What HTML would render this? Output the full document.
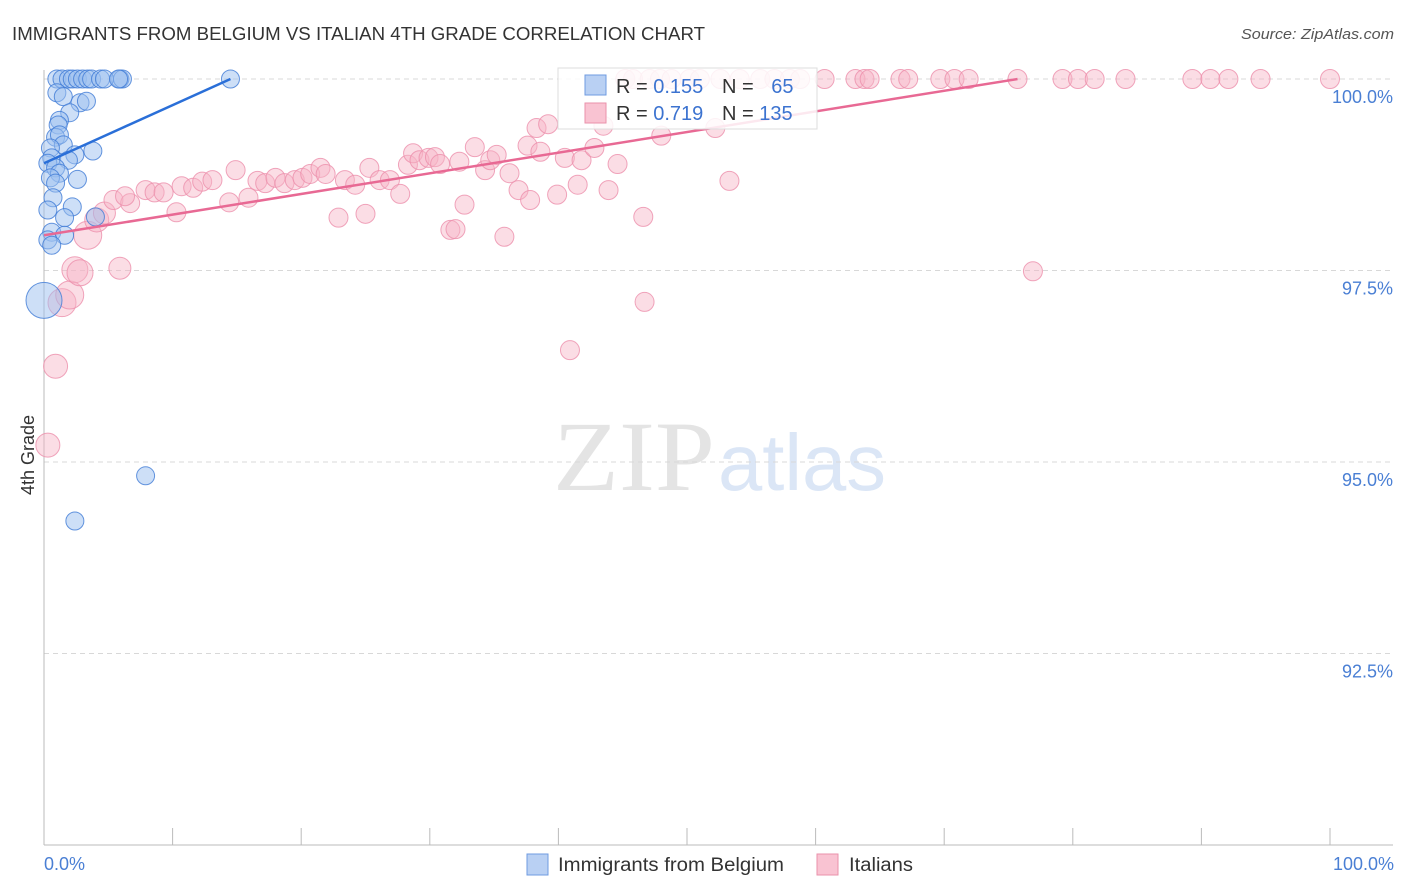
<!DOCTYPE html>
<html><head><meta charset="utf-8"><style>
body{margin:0;background:#fff;font-family:"Liberation Sans",sans-serif;}
svg{display:block}
</style></head><body>
<svg id="chart" width="1406" height="892" viewBox="0 0 1406 892">
<text x="12" y="40" font-size="18" fill="#333" textLength="693" lengthAdjust="spacingAndGlyphs">IMMIGRANTS FROM BELGIUM VS ITALIAN 4TH GRADE CORRELATION CHART</text>
<text x="1241" y="39" font-size="15" fill="#555" font-style="italic" textLength="153" lengthAdjust="spacingAndGlyphs">Source: ZipAtlas.com</text>
<g>
<text x="553" y="490" font-family="Liberation Serif,serif" font-size="100" fill="#e4e4e4" textLength="162" lengthAdjust="spacingAndGlyphs">ZIP</text>
<text x="718" y="490" font-size="80" fill="#dbe6f6" textLength="168" lengthAdjust="spacingAndGlyphs">atlas</text>
</g>
<g id="grid"></g>
<g id="axes"></g>
<g id="pts"></g>
<g id="trend"></g>
<text transform="translate(34,455) rotate(-90)" font-size="18" fill="#333" text-anchor="middle">4th Grade</text>
<text x="44" y="870" font-size="18" fill="#4a7fd4">0.0%</text>
<text x="1394" y="870" font-size="18" fill="#4a7fd4" text-anchor="end">100.0%</text>
<g>
<rect x="558" y="68" width="259" height="61" fill="#fff" fill-opacity="0.85" stroke="#ddd"/>
<rect x="585" y="75" width="21" height="20" fill="#b9d0f3" stroke="#6f9be0"/>
<rect x="585" y="103" width="21" height="20" fill="#f9c3d2" stroke="#ea91ab"/>
<text x="616" y="93" font-size="20" fill="#333">R = <tspan fill="#3c73d0">0.155</tspan></text>
<text x="722" y="93" font-size="20" fill="#333">N = <tspan fill="#3c73d0" dx="12">65</tspan></text>
<text x="616" y="120" font-size="20" fill="#333">R = <tspan fill="#3c73d0">0.719</tspan></text>
<text x="722" y="120" font-size="20" fill="#333">N = <tspan fill="#3c73d0">135</tspan></text>
</g>
<g>
<rect x="527" y="854" width="21" height="21" fill="#b9d0f3" stroke="#6f9be0"/>
<text x="558" y="871" font-size="19" fill="#333" textLength="226" lengthAdjust="spacingAndGlyphs">Immigrants from Belgium</text>
<rect x="817" y="854" width="21" height="21" fill="#f9c3d2" stroke="#ea91ab"/>
<text x="849" y="871" font-size="19" fill="#333" textLength="64" lengthAdjust="spacingAndGlyphs">Italians</text>
</g>
</svg>
<script>
const yTicks=[100,97.5,95,92.5];
const yTickLabels=["100.0%","97.5%","95.0%","92.5%"];
const xTicks=[10,20,30,40,50,60,70,80,90,100];
const blueX=[1.0,1.4,1.9,2.2,2.6,3.0,3.4,3.7,4.4,5.9,6.1,14.5,1.0,1.5,2.8,3.3,2.0,1.2,1.1,0.9,1.2,1.5,0.5,3.8,2.4,0.6,1.9,0.3,0.9,1.2,0.5,0.9,2.6,0.7,0.3,2.2,1.6,4.0,0.6,1.6,0.3,0.6,0,7.9,2.4,4.7,5.8];
const blueY=[100,100,100,100,100,100,100,100,100,100,100,100,99.82,99.77,99.69,99.71,99.56,99.46,99.40,99.24,99.27,99.14,99.10,99.06,99.01,98.97,98.94,98.90,98.84,98.77,98.71,98.64,98.69,98.45,98.29,98.33,98.19,98.20,98.00,97.96,97.90,97.83,97.11,94.82,94.23,100,100];
const blueR=[9,9,9,9,9,9,9,9,9,9,9,9,9,9,9,9,9,9,9,9,9,9,9,9,9,9,9,9,9,9,9,9,9,9,9,9,9,9,9,9,9,9,18,9,9,9,9];
const pinkX=[45.2,45.8,47.1,47.9,48.8,50.2,51.0,52.6,54.1,55.7,56.8,58.0,58.8,60.7,63.1,63.8,64.2,66.6,67.2,69.7,70.8,71.9,75.7,79.2,80.4,81.7,84.1,89.3,90.7,92.1,94.6,100,
0.3,0.9,1.4,2.0,2.4,2.8,5.9,3.4,4.1,4.7,5.4,6.7,6.3,7.9,8.6,9.3,10.3,10.7,11.6,12.3,13.1,14.4,14.9,15.9,16.6,17.2,18.0,18.7,19.5,20.1,20.7,21.5,21.9,22.9,23.4,24.2,25.0,25.3,26.1,26.9,27.7,28.3,28.7,29.2,29.9,30.4,30.8,31.6,32.0,32.7,32.3,33.5,34.3,34.7,35.2,35.8,36.2,36.9,37.6,37.8,38.3,38.6,39.2,39.9,40.5,40.9,41.5,41.8,42.8,43.5,43.9,44.6,46.7,46.6,48.0,52.2,53.3,76.9];
const pinkY=[100,100,100,100,100,100,100,100,100,100,100,100,100,100,100,100,100,100,100,100,100,100,100,100,100,100,100,100,100,100,100,100,
95.22,96.25,97.08,97.18,97.51,97.47,97.53,97.96,98.16,98.25,98.42,98.38,98.47,98.55,98.52,98.52,98.26,98.60,98.58,98.66,98.68,98.39,98.81,98.45,98.67,98.64,98.71,98.64,98.68,98.71,98.76,98.84,98.76,98.19,98.68,98.62,98.24,98.84,98.68,98.68,98.50,98.88,99.03,98.94,98.97,98.98,98.89,98.03,98.04,98.36,98.92,99.11,98.81,98.94,99.01,97.94,98.77,98.55,99.13,98.42,99.36,99.05,99.41,98.49,98.97,96.46,98.62,98.94,99.10,99.39,98.55,98.89,97.09,98.20,99.26,99.36,98.67,97.49];
const pinkR0=[12,12,14,14,13,13,11,14,12,11];
const blueTrend=[[0,98.90],[14.5,100]];
const pinkTrend=[[0,97.96],[75.7,100]];
const X0=44,X1=1330,YTOP=79,PXPER=76.6;
const sx=v=>X0+v/100*(X1-X0);
const sy=v=>YTOP+(100-v)*PXPER;
const NS="http://www.w3.org/2000/svg";
function mk(tag,attrs,parent){const e=document.createElementNS(NS,tag);for(const k in attrs)e.setAttribute(k,attrs[k]);parent.appendChild(e);return e;}
const grid=document.getElementById('grid'),axes=document.getElementById('axes'),pts=document.getElementById('pts'),tr=document.getElementById('trend');
yTicks.forEach((t,i)=>{
 const l=mk('line',{x1:44,x2:1393,y1:sy(t),y2:sy(t),stroke:'#d8d8d8','stroke-dasharray':'5,4'},grid);
 
 
 const tx=mk('text',{x:1393,y:sy(t)+24,'font-size':18,fill:'#4a7fd4','text-anchor':'end'},axes);
 tx.textContent=yTickLabels[i];
 
 
});
mk('line',{x1:44,x2:44,y1:70,y2:845,stroke:'#bbb'},axes);
mk('line',{x1:44,x2:1393,y1:845,y2:845,stroke:'#bbb'},axes);
xTicks.forEach(t=>{
 const l=mk('line',{x1:sx(t),x2:sx(t),y1:828,y2:845,stroke:'#bbb'},axes);
 
 
});
pinkX.forEach((x,i)=>{
 const r=i>=32&&i-32<pinkR0.length?pinkR0[i-32]:9.5;
 const c=mk('circle',{cx:sx(x),cy:sy(pinkY[i]),r:r,fill:'#f6b3c6','fill-opacity':0.45,stroke:'#ec8fab','stroke-opacity':0.8},pts);
 
 
});
blueX.forEach((x,i)=>{
 const c=mk('circle',{cx:sx(x),cy:sy(blueY[i]),r:blueR[i],fill:'#9cbff0','fill-opacity':0.5,stroke:'#3f7ad6','stroke-opacity':0.8},pts);
 
 
});
const bl=mk('line',{x1:sx(blueTrend[0][0]),y1:sy(blueTrend[0][1]),x2:sx(blueTrend[1][0]),y2:sy(blueTrend[1][1]),stroke:'#2a6fd8','stroke-width':2.5},tr);


const pl=mk('line',{x1:sx(pinkTrend[0][0]),y1:sy(pinkTrend[0][1]),x2:sx(pinkTrend[1][0]),y2:sy(pinkTrend[1][1]),stroke:'#e86994','stroke-width':2.5},tr);


</script>
</body></html>
